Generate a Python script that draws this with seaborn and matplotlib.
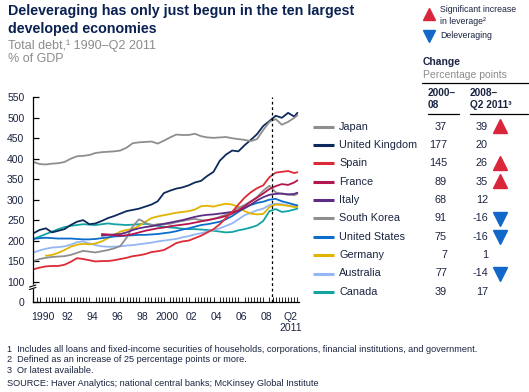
import pandas as pd
import matplotlib.pyplot as plt
import seaborn as sns
from matplotlib.lines import Line2D
from matplotlib.transforms import blended_transform_factory

# === DATA (total debt, % of GDP, half-yearly) ===
years = [1990.0, 1990.5, 1991.0, 1991.5, 1992.0, 1992.5, 1993.0, 1993.5, 1994.0, 1994.5,
         1995.0, 1995.5, 1996.0, 1996.5, 1997.0, 1997.5, 1998.0, 1998.5, 1999.0, 1999.5,
         2000.0, 2000.5, 2001.0, 2001.5, 2002.0, 2002.5, 2003.0, 2003.5, 2004.0, 2004.5,
         2005.0, 2005.5, 2006.0, 2006.5, 2007.0, 2007.5, 2008.0, 2008.5, 2009.0, 2009.5,
         2010.0, 2010.5, 2011.0, 2011.25]

nan = float('nan')
japan = [392, 387, 386, 388, 389, 392, 400, 406, 407, 409,
         414, 416, 417, 418, 420, 427, 438, 440, 441, 442,
         437, 444, 452, 459, 458, 458, 461, 455, 452, 451,
         452, 453, 450, 448, 446, 443, 448, 470, 490, 497,
         483, 490, 500, 506]
uk = [218, 226, 230, 220, 224, 228, 238, 246, 250, 240,
      242, 248, 255, 260, 266, 272, 275, 278, 283, 288,
      296, 316, 322, 327, 330, 335, 342, 346, 358, 368,
      395, 410, 420, 418, 433, 446, 460, 480, 492, 505,
      500, 512, 503, 512]
spain = [130, 134, 137, 138, 138, 141, 148, 157, 155, 152,
         149, 150, 150, 152, 155, 158, 162, 164, 167, 172,
         174, 177, 185, 194, 198, 200, 206, 212, 220, 228,
         240, 255, 270, 288, 305, 318, 328, 335, 355, 366,
         368, 370, 365, 367]
france = [nan, nan, nan, nan, nan, nan, nan, nan, nan, nan,
          nan, 216, 215, 213, 212, 213, 216, 220, 224, 227,
          230, 232, 235, 237, 239, 241, 244, 247, 250, 253,
          256, 260, 266, 274, 284, 295, 305, 315, 326, 333,
          338, 336, 342, 347]
italy = [nan, nan, nan, nan, nan, nan, nan, nan, nan, nan,
         nan, 212, 214, 215, 216, 220, 226, 230, 233, 235,
         238, 241, 244, 247, 250, 254, 258, 261, 263, 264,
         266, 268, 270, 273, 279, 288, 298, 306, 312, 314,
         315, 313, 314, 317]
south_korea = [150, 155, 158, 160, 161, 162, 165, 170, 175, 173,
               171, 174, 177, 181, 187, 207, 235, 252, 244, 237,
               240, 240, 241, 245, 248, 251, 253, 250, 249, 253,
               258, 264, 270, 280, 287, 296, 306, 322, 334, 318,
               314, 312, 311, 314]
us = [204, 206, 207, 206, 205, 205, 205, 204, 203, 203,
      204, 206, 208, 210, 211, 212, 213, 214, 214, 215,
      216, 218, 220, 223, 227, 230, 234, 238, 240, 243,
      246, 252, 260, 270, 280, 287, 292, 295, 300, 302,
      296, 292, 288, 286]
germany = [nan, nan, 163, 165, 170, 177, 185, 190, 192, 191,
           193, 198, 206, 214, 222, 226, 229, 236, 246, 255,
           259, 262, 265, 268, 270, 272, 276, 284, 285, 283,
           287, 290, 288, 282, 272, 266, 264, 265, 282, 288,
           287, 285, 282, 282]
australia = [171, 176, 180, 183, 184, 186, 190, 196, 198, 193,
             189, 186, 185, 185, 186, 188, 189, 191, 193, 195,
             198, 200, 202, 204, 208, 211, 215, 218, 222, 226,
             230, 236, 242, 252, 262, 268, 274, 278, 287, 290,
             289, 286, 284, 283]
canada = [204, 210, 216, 222, 228, 233, 236, 238, 240, 239,
          238, 240, 242, 240, 239, 238, 239, 240, 241, 239,
          236, 234, 232, 231, 229, 228, 228, 227, 226, 224,
          222, 220, 221, 225, 228, 232, 237, 248, 272, 277,
          270, 272, 276, 278]

countries = ['Japan', 'United Kingdom', 'Spain', 'France', 'Italy',
             'South Korea', 'United States', 'Germany', 'Australia', 'Canada']
series = [japan, uk, spain, france, italy, south_korea, us, germany, australia, canada]
change_2000_08 = [37, 177, 145, 89, 68, 91, 75, 7, 77, 39]
change_2008_11 = [39, 20, 26, 35, 12, -16, -16, 1, -14, 17]
signal = ['up', None, 'up', 'up', None, 'down', 'down', None, 'down', None]

y_ticks = [50, 100, 150, 200, 250, 300, 350, 400, 450, 500, 550]
y_labels = ['0', '100', '150', '200', '250', '300', '350', '400', '450', '500', '550']
x_labels = ['1990', '92', '94', '96', '98', '2000', '02', '04', '06', '08', 'Q2\n2011']

# === STYLE ===
colors = {'Japan': '#8E8E8E', 'United Kingdom': '#0D2A5C', 'Spain': '#DE2A36',
          'France': '#B3154F', 'Italy': '#5E2C84', 'South Korea': '#8E8E8E',
          'United States': '#0B6DCC', 'Germany': '#E2B400', 'Australia': '#94B6F4',
          'Canada': '#13A3A3'}
NAVY = '#0A2152'
TXT = '#1B2440'
GRAY = '#8C8C8C'
RED = '#D9263A'
BLUE = '#1268C8'

sns.set_theme(style="white")
plt.rcParams['font.family'] = ['Liberation Sans', 'DejaVu Sans']

W, H = 529, 392


def fx(x):
    return x / W


def fy(y):
    return 1 - y / H


long_df = pd.concat(
    [pd.DataFrame({'year': years, 'debt': vals, 'country': name}) for name, vals in zip(countries, series)],
    ignore_index=True).dropna()

fig = plt.figure(figsize=(W / 100, H / 100), dpi=100)
ax = fig.add_axes([fx(32.7), fy(302), (299 - 32.7) / W, (302 - 96.5) / H])

sns.lineplot(data=long_df, x='year', y='debt', hue='country', hue_order=countries[::-1],
             palette=colors, estimator=None, sort=False, legend=False, linewidth=1.3, ax=ax)

ax.set_xlim(1989.94, 2011.38)
ax.set_ylim(50, 552)
ax.axvline(2009.2, color='black', linestyle=(0, (2.2, 2.2)), linewidth=0.9)

for s in ['top', 'right']:
    ax.spines[s].set_visible(False)
for s in ['left', 'bottom']:
    ax.spines[s].set_color('black')
    ax.spines[s].set_linewidth(0.9)

ax.set_yticks(y_ticks)
ax.set_yticklabels(y_labels)
ax.set_xticks([1990.75, 1992.75, 1994.75, 1996.75, 1998.75, 2000.75, 2002.75,
               2004.75, 2006.75, 2008.75, 2010.7])
ax.set_xticklabels(x_labels)
ax.set_xticks([1990 + 0.25 * i for i in range(86)], minor=True)
ax.tick_params(axis='y', direction='in', length=4, width=0.9, color='black',
               labelsize=7.5, labelcolor=TXT, pad=6, left=True)
ax.tick_params(axis='x', which='major', length=0, labelsize=7.5, labelcolor=TXT, pad=7)
ax.tick_params(axis='x', which='minor', direction='in', length=3.5, width=0.6,
               color='black', bottom=True)
ax.set_xlabel('')
ax.set_ylabel('')
ax.grid(False)

# axis break marks between 0 and 100
tr = blended_transform_factory(ax.transAxes, ax.transData)
ax.plot([-0.012, 0.012], [84, 89], transform=tr, color='white', lw=3, clip_on=False, zorder=5)
for yb in (83, 89):
    ax.plot([-0.012, 0.012], [yb - 2.5, yb + 2.5], transform=tr, color='black', lw=0.8,
            clip_on=False, zorder=6)

# === TITLES ===
fig.text(fx(8), fy(4), 'Deleveraging has only just begun in the ten largest',
         fontsize=10.3, fontweight='bold', color=NAVY, va='top')
fig.text(fx(8), fy(21.5), 'developed economies',
         fontsize=10.3, fontweight='bold', color=NAVY, va='top')
fig.text(fx(8), fy(39), 'Total debt,\u00b9 1990\u2013Q2 2011', fontsize=9, color=GRAY, va='top')
fig.text(fx(8), fy(53.5), '% of GDP', fontsize=9, color=GRAY, va='top')

# === RIGHT-HAND KEY ===
fig.add_artist(Line2D([fx(429)], [fy(14)], marker='^', markersize=9, color=RED,
                      transform=fig.transFigure, linestyle='none'))
fig.text(fx(440), fy(10), 'Significant increase', fontsize=6.3, color=TXT, va='center')
fig.text(fx(440), fy(21), 'in leverage\u00b2', fontsize=6.3, color=TXT, va='center')
fig.add_artist(Line2D([fx(429)], [fy(36)], marker='v', markersize=9, color=BLUE,
                      transform=fig.transFigure, linestyle='none'))
fig.text(fx(440), fy(36), 'Deleveraging', fontsize=6.3, color=TXT, va='center')

fig.text(fx(423), fy(62), 'Change', fontsize=7.5, fontweight='bold', color=TXT, va='center')
fig.text(fx(423), fy(75), 'Percentage points', fontsize=7.5, color=GRAY, va='center')
fig.add_artist(Line2D([fx(422), fx(529)], [fy(82.5), fy(82.5)], color='black', lw=0.9,
                      transform=fig.transFigure))

fig.text(fx(428), fy(93), '2000\u2013', fontsize=7.3, fontweight='bold', color=TXT, va='center')
fig.text(fx(428), fy(105.5), '08', fontsize=7.3, fontweight='bold', color=TXT, va='center')
fig.text(fx(470), fy(93), '2008\u2013', fontsize=7.3, fontweight='bold', color=TXT, va='center')
fig.text(fx(470), fy(105.5), 'Q2 2011\u00b3', fontsize=7.3, fontweight='bold', color=TXT, va='center')
fig.add_artist(Line2D([fx(428), fx(459)], [fy(114.3), fy(114.3)], color='black', lw=0.9,
                      transform=fig.transFigure))
fig.add_artist(Line2D([fx(470), fx(528)], [fy(114.3), fy(114.3)], color='black', lw=0.9,
                      transform=fig.transFigure))

for i, name in enumerate(countries):
    yc = 126.7 + i * 18.35
    fig.add_artist(Line2D([fx(313), fx(334)], [fy(yc), fy(yc)], color=colors[name], lw=2.2,
                          transform=fig.transFigure, solid_capstyle='butt'))
    fig.text(fx(339), fy(yc), name, fontsize=7.8, color=TXT, va='center')
    fig.text(fx(447), fy(yc), str(change_2000_08[i]), fontsize=7.8, color=TXT,
             va='center', ha='right')
    fig.text(fx(488), fy(yc), str(change_2008_11[i]), fontsize=7.8, color=TXT,
             va='center', ha='right')
    if signal[i] == 'up':
        fig.add_artist(Line2D([fx(500)], [fy(yc - 0.5)], marker='^', markersize=9.5, color=RED,
                              transform=fig.transFigure, linestyle='none'))
    elif signal[i] == 'down':
        fig.add_artist(Line2D([fx(500)], [fy(yc + 0.5)], marker='v', markersize=9.5, color=BLUE,
                              transform=fig.transFigure, linestyle='none'))

# === FOOTNOTES ===
notes = ['1  Includes all loans and fixed-income securities of households, corporations, financial institutions, and government.',
         '2  Defined as an increase of 25 percentage points or more.',
         '3  Or latest available.']
for k, note in enumerate(notes):
    fig.text(fx(7), fy(349 + k * 10.8), note, fontsize=6.6, color=TXT, va='center')
fig.text(fx(7), fy(384), 'SOURCE: Haver Analytics; national central banks; McKinsey Global Institute',
         fontsize=6.6, color=TXT, va='center')

fig.savefig('out.png', dpi=100)
plt.close(fig)
